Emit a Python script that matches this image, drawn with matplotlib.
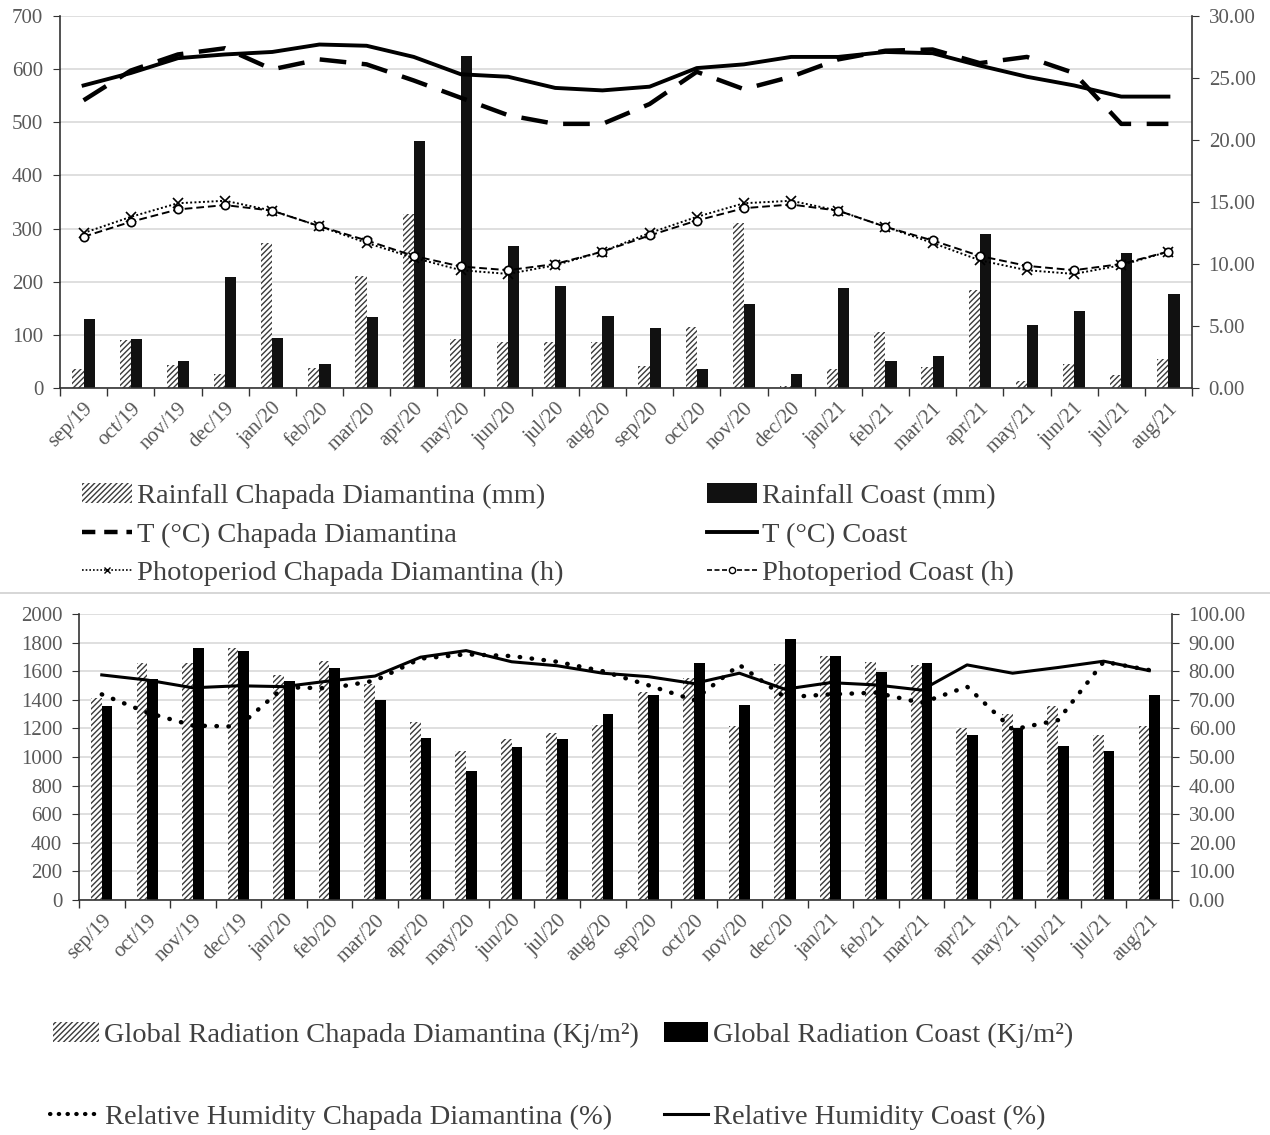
import matplotlib
matplotlib.use("Agg")
import matplotlib.pyplot as plt
from matplotlib.lines import Line2D
from matplotlib.patches import Patch
import numpy as np

plt.rcParams['font.family'] = ['Liberation Serif', 'DejaVu Serif']
plt.rcParams['hatch.linewidth'] = 1.0

# dados
meses = ['sep/19', 'oct/19', 'nov/19', 'dec/19', 'jan/20', 'feb/20', 'mar/20', 'apr/20',
         'may/20', 'jun/20', 'jul/20', 'aug/20', 'sep/20', 'oct/20', 'nov/20', 'dec/20',
         'jan/21', 'feb/21', 'mar/21', 'apr/21', 'may/21', 'jun/21', 'jul/21', 'aug/21']

chuva_cd = [35, 90, 44, 26, 273, 38, 211, 327, 92, 86, 86, 86,
            41, 115, 310, 4, 36, 105, 40, 185, 13, 45, 24, 54]
chuva_costa = [130, 92, 50, 208, 94, 45, 134, 465, 625, 267, 191, 135,
               112, 36, 159, 27, 188, 51, 61, 289, 118, 145, 254, 177]

temp_cd = [23.2, 25.6, 26.9, 27.4, 25.7, 26.5, 26.1, 24.8, 23.4, 22.0, 21.3, 21.3,
           22.9, 25.5, 24.1, 25.1, 26.5, 27.2, 27.3, 26.2, 26.7, 25.4, 21.3, 21.3]
temp_costa = [24.4, 25.4, 26.6, 26.9, 27.1, 27.7, 27.6, 26.7, 25.3, 25.1, 24.2, 24.0,
              24.3, 25.8, 26.1, 26.7, 26.7, 27.1, 27.0, 26.0, 25.1, 24.4, 23.5, 23.5]

foto_cd = [12.5, 13.8, 14.9, 15.1, 14.3, 13.05, 11.7, 10.5, 9.5, 9.2, 9.9, 11.0,
           12.5, 13.8, 14.9, 15.1, 14.3, 13.0, 11.7, 10.3, 9.5, 9.2, 9.9, 11.0]
foto_costa = [12.2, 13.4, 14.4, 14.75, 14.3, 13.05, 11.9, 10.65, 9.8, 9.5, 10.0, 11.0,
              12.3, 13.5, 14.5, 14.8, 14.3, 13.0, 11.9, 10.65, 9.85, 9.5, 10.0, 11.0]

rad_cd = [1415, 1660, 1655, 1762, 1573, 1669, 1510, 1243, 1040, 1124, 1166, 1224,
          1455, 1555, 1217, 1650, 1706, 1662, 1643, 1203, 1300, 1357, 1157, 1220]
rad_costa = [1359, 1548, 1764, 1739, 1531, 1622, 1400, 1136, 900, 1068, 1129, 1300,
             1437, 1655, 1365, 1825, 1706, 1597, 1660, 1157, 1206, 1078, 1042, 1437]

ur_cd = [71.9, 65.5, 61.0, 60.6, 74.4, 74.0, 76.7, 84.4, 85.9, 85.3, 83.3, 80.0,
         75.1, 69.9, 82.2, 70.9, 71.9, 72.5, 68.9, 74.6, 59.6, 62.9, 83.3, 80.4]
ur_costa = [78.7, 76.9, 74.2, 74.9, 74.6, 76.6, 78.3, 84.9, 87.2, 83.3, 81.9, 79.3,
            78.1, 75.7, 79.3, 73.7, 76.0, 75.2, 73.4, 82.2, 79.3, 81.3, 83.5, 80.2]

x = np.arange(len(meses))
cinza_txt = '#595959'
cinza_grade = '#d9d9d9'
hachura = '#3a3a3a'
larg = 0.235

fig = plt.figure(figsize=(12.7, 11.35), dpi=100)
W, H = 1270, 1135


def eixo(x0, y0, x1, y1):
    return fig.add_axes([x0 / W, 1 - y1 / H, (x1 - x0) / W, (y1 - y0) / H])


def estilo(ax, ax2):
    ax.set_xlim(-0.5, len(meses) - 0.5)
    ax.set_xticks(x)
    ax.set_xticklabels(meses, rotation=45, ha='right', rotation_mode='anchor',
                       fontsize=15, color=cinza_txt)
    ax.set_xticks(np.arange(-0.5, len(meses), 1), minor=True)
    ax.tick_params(axis='x', which='major', length=0, pad=8)
    ax.tick_params(axis='x', which='minor', length=6, width=1, color='#333333')
    ax.tick_params(axis='y', labelsize=15, labelcolor=cinza_txt, length=5, color='#333333', pad=7)
    ax2.tick_params(axis='y', labelsize=15, labelcolor=cinza_txt, length=5, color='#333333', pad=7)
    ax.grid(axis='y', color=cinza_grade, linewidth=1.2)
    ax.set_axisbelow(True)
    for a in (ax, ax2):
        a.spines['top'].set_visible(False)
        for s in ('left', 'right', 'bottom'):
            a.spines[s].set_color('#333333')
            a.spines[s].set_linewidth(1.2)
    ax.spines['right'].set_visible(False)
    ax2.spines['left'].set_visible(False)
    ax2.spines['bottom'].set_visible(False)


def item(handle, label, px, py, hl):
    # uma entrada de legenda posicionada em pixels (início do símbolo, centro vertical)
    lg = fig.legend([handle], [label], loc='center left', bbox_to_anchor=(px / W, 1 - py / H),
                    frameon=False, fontsize=20.5, handlelength=hl, handletextpad=0.18,
                    borderpad=0, borderaxespad=0)
    lg.get_texts()[0].set_color('#404040')
    return lg


# --- GRÁFICO 1: chuva, temperatura e fotoperíodo ---
ax1 = eixo(60, 16, 1192, 388)
ax1b = ax1.twinx()
ax1.bar(x - larg / 2, chuva_cd, width=larg, color='white', edgecolor=hachura,
        hatch='//////', linewidth=0)
ax1.bar(x + larg / 2, chuva_costa, width=larg, color='#111111')
ax1.set_ylim(0, 700)
ax1.set_yticks(range(0, 701, 100))

ax1b.plot(x, temp_cd, color='black', linewidth=3.2, linestyle=(0, (6, 3.5)))
ax1b.plot(x, temp_costa, color='black', linewidth=2.8)
ax1b.plot(x, foto_cd, color='black', linewidth=1.4, linestyle=(0, (1, 1.2)),
          marker='x', markersize=7, markeredgewidth=1.2)
ax1b.plot(x, foto_costa, color='black', linewidth=1.4, linestyle=(0, (4, 2)),
          marker='o', markersize=6, markerfacecolor='white', markeredgewidth=1.2)
ax1b.set_ylim(0, 30)
ax1b.set_yticks(np.arange(0, 30.1, 5))
ax1b.set_yticklabels([f'{v:.2f}' for v in np.arange(0, 30.1, 5)])
estilo(ax1, ax1b)

item(Patch(facecolor='white', edgecolor=hachura, hatch='//////', linewidth=0),
     'Rainfall Chapada Diamantina (mm)', 82, 496, 1.75)
item(Line2D([], [], color='black', linewidth=3.2, linestyle=(0, (3, 2))),
     'T (°C) Chapada Diamantina', 82, 535, 1.75)
item(Line2D([], [], color='black', linewidth=1.2, linestyle=(0, (1, 1.2)),
            marker='x', markersize=5, markeredgewidth=1.0),
     'Photoperiod Chapada Diamantina (h)', 82, 573, 1.75)
item(Patch(facecolor='#111111'), 'Rainfall Coast (mm)', 707, 496, 1.75)
item(Line2D([], [], color='black', linewidth=2.8), 'T (°C) Coast', 707, 535, 1.75)
item(Line2D([], [], color='black', linewidth=1.2, linestyle=(0, (3, 1.5)),
            marker='o', markersize=4.5, markerfacecolor='white'),
     'Photoperiod Coast (h)', 707, 573, 1.75)

fig.add_artist(Line2D([0, 1], [1 - 593 / H, 1 - 593 / H], color='#d0d0d0', linewidth=1.2))

# --- GRÁFICO 2: radiação global e umidade relativa ---
ax2 = eixo(79, 614, 1172, 900)
ax2b = ax2.twinx()
ax2.bar(x - larg / 2, rad_cd, width=larg, color='white', edgecolor=hachura,
        hatch='//////', linewidth=0)
ax2.bar(x + larg / 2, rad_costa, width=larg, color='black')
ax2.set_ylim(0, 2000)
ax2.set_yticks(range(0, 2001, 200))

ax2b.plot(x, ur_cd, color='black', linewidth=3.2, linestyle=(0, (0.1, 2.6)),
          dash_capstyle='round')
ax2b.plot(x, ur_costa, color='black', linewidth=2.2)
ax2b.set_ylim(0, 100)
ax2b.set_yticks(np.arange(0, 100.1, 10))
ax2b.set_yticklabels([f'{v:.2f}' for v in np.arange(0, 100.1, 10)])
estilo(ax2, ax2b)

item(Patch(facecolor='white', edgecolor=hachura, hatch='//////', linewidth=0),
     'Global Radiation Chapada Diamantina (Kj/m²)', 53, 1035, 1.6)
item(Patch(facecolor='black'), 'Global Radiation Coast (Kj/m²)', 664, 1035, 1.55)
item(Line2D([], [], color='black', linewidth=3.0, linestyle=(0, (0.1, 2.0)),
            dash_capstyle='round'),
     'Relative Humidity Chapada Diamantina (%)', 50, 1117, 1.75)
item(Line2D([], [], color='black', linewidth=2.2), 'Relative Humidity Coast (%)', 664, 1117, 1.55)

fig.savefig('out.png', dpi=100)
